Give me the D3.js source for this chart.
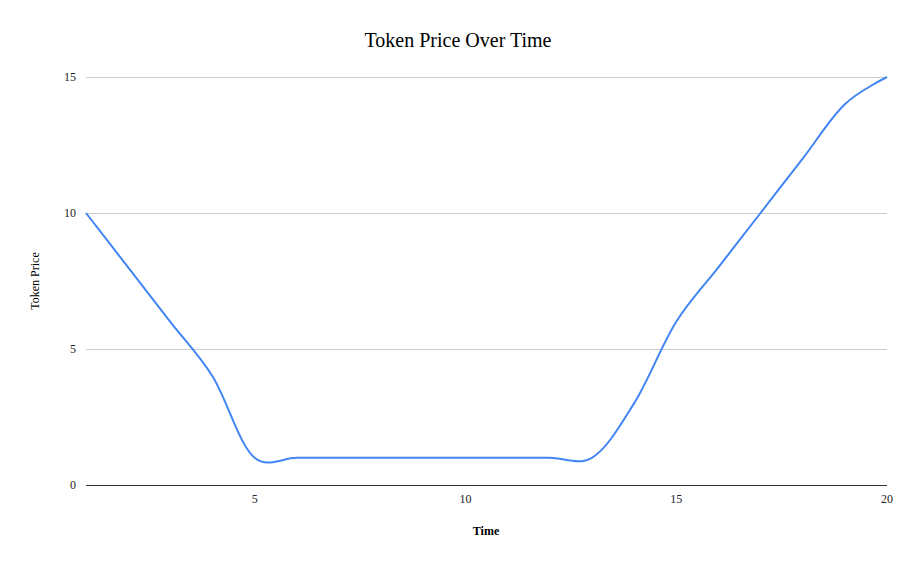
<!DOCTYPE html>
<html><head><meta charset="utf-8">
<script src="https://cdn.jsdelivr.net/npm/d3@7"></script>
<style>body{margin:0;background:#fff}svg{display:block}</style>
</head><body>
<svg id="c" width="916" height="566"></svg>
<script>
const times = [1,2,3,4,5,6,7,8,9,10,11,12,13,14,15,16,17,18,19,20];
const prices = [10,8,6,4,1,1,1,1,1,1,1,1,1,3,6,8,10,12,14,15];
const xTicks = [5,10,15,20];
const yTicks = [0,5,10,15];
const title = "Token Price Over Time";
const xLabel = "Time";
const yLabel = "Token Price";

const svg = d3.select("#c");
const font = "'Liberation Serif','Times New Roman',serif";
const m = {l:86, r:29, t:77, b:81};
const W = 916, H = 566;
const x = d3.scaleLinear().domain([1,20]).range([m.l, W-m.r]);
const y = d3.scaleLinear().domain([0,15]).range([H-m.b, m.t]);

svg.append("rect").attr("width",W).attr("height",H).attr("fill","#fff");

// grid
svg.append("g").selectAll("line").data(yTicks.filter(d=>d>0)).join("line")
  .attr("x1",x(1)).attr("x2",x(20)).attr("y1",d=>y(d)).attr("y2",d=>y(d))
  .attr("stroke","#cccccc").attr("stroke-width",1).attr("shape-rendering","crispEdges");

// y tick labels
svg.append("g").selectAll("text").data(yTicks).join("text")
  .attr("x",x(1)-10).attr("y",d=>y(d)).attr("dy","0.35em")
  .attr("text-anchor","end").attr("font-family",font).attr("font-size",12).attr("fill","#222")
  .text(d=>d);

// x tick labels
svg.append("g").selectAll("text").data(xTicks).join("text")
  .attr("x",d=>x(d)).attr("y",y(0)+18)
  .attr("text-anchor","middle").attr("font-family",font).attr("font-size",12).attr("fill","#222")
  .text(d=>d);

// line
const line = d3.line().x((d,i)=>x(times[i])).y(d=>y(d)).curve(d3.curveCatmullRom.alpha(0.2));
svg.append("path").datum(prices).attr("d",line)
  .attr("fill","none").attr("stroke","#4285f4").attr("stroke-width",2);

// baseline
svg.append("line").attr("x1",x(1)).attr("x2",x(20)).attr("y1",y(0)).attr("y2",y(0))
  .attr("stroke","#333").attr("stroke-width",1).attr("shape-rendering","crispEdges");

// title
svg.append("text").attr("x",458).attr("y",47).attr("text-anchor","middle")
  .attr("font-family",font).attr("font-size",20).attr("fill","#000").text(title);

// axis titles
svg.append("text").attr("x",486).attr("y",535).attr("text-anchor","middle")
  .attr("font-family",font).attr("font-size",12).attr("font-weight","bold").attr("fill","#000").text(xLabel);
svg.append("text").attr("transform","translate(39,281) rotate(-90)").attr("text-anchor","middle")
  .attr("font-family",font).attr("font-size",12).attr("fill","#000").text(yLabel);
</script>
</body></html>
